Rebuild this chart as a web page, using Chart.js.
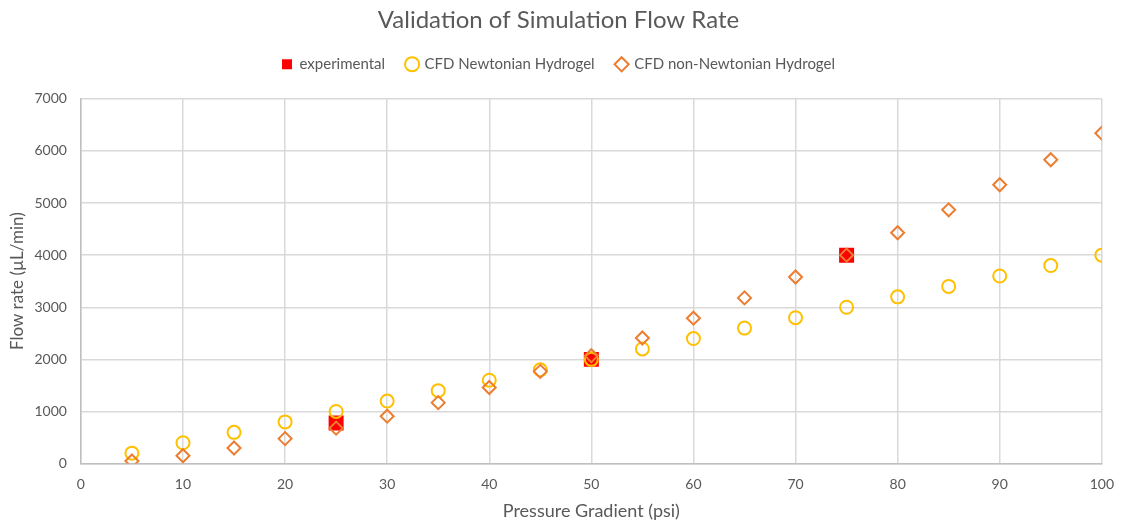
<!DOCTYPE html>
<html>
<head>
<meta charset="utf-8">
<title>Validation of Simulation Flow Rate</title>
<script src="https://cdn.jsdelivr.net/npm/chart.js@4/dist/chart.umd.min.js"></script>
<style>
  html, body { margin: 0; padding: 0; background: #fff; }
  #wrap { width: 1126px; height: 523px; position: relative; }
</style>
</head>
<body>
<div id="wrap"><canvas id="flowChart"></canvas></div>
<script>
// pressure gradient (psi)
var pressure = [5, 10, 15, 20, 25, 30, 35, 40, 45, 50, 55, 60, 65, 70, 75, 80, 85, 90, 95, 100];
// flow rate (µL/min)
var newtonian = [200, 400, 600, 800, 1000, 1200, 1400, 1600, 1800, 2000, 2200, 2400, 2600, 2800, 3000, 3200, 3400, 3600, 3800, 4000];
var nonNewtonian = [50, 150, 300, 480, 680, 910, 1170, 1460, 1770, 2070, 2410, 2790, 3180, 3580, 4000, 4430, 4870, 5350, 5830, 6340];
var expPressure = [25, 50, 75];
var experimental = [780, 2000, 4000];

function toPoints(xs, ys) {
    return xs.map(function (x, i) { return { x: x, y: ys[i] }; });
}

var textColor = "#595959";
var fontName = "Lato, 'Open Sans', sans-serif";

// extra room under the legend before the plot area
var legendGap = {
    id: 'legendGap',
    beforeInit: function (chart) {
        var fit = chart.legend.fit;
        chart.legend.fit = function () {
            fit.call(this);
            this.height += 17;
        };
    }
};

var ctx = document.getElementById("flowChart");
var flowChart = new Chart(ctx, {
    type: 'scatter',
    data: {
        datasets: [{
            label: 'experimental',
            data: toPoints(expPressure, experimental),
            pointStyle: 'rect',
            pointRadius: 10.6,
            pointHoverRadius: 10.6,
            backgroundColor: "#FF0000",
            borderColor: "#FF0000",
            borderWidth: 0,
            order: 2
        }, {
            label: 'CFD Newtonian Hydrogel',
            data: toPoints(pressure, newtonian),
            pointStyle: 'circle',
            pointRadius: 6.5,
            pointHoverRadius: 6.5,
            backgroundColor: "rgba(0,0,0,0)",
            borderColor: "#FFC000",
            borderWidth: 2,
            order: 1
        }, {
            label: 'CFD non-Newtonian Hydrogel',
            data: toPoints(pressure, nonNewtonian),
            pointStyle: 'rectRot',
            pointRadius: 6.5,
            pointHoverRadius: 6.5,
            backgroundColor: "rgba(0,0,0,0)",
            borderColor: "#ED7D31",
            borderWidth: 2,
            order: 0
        }]
    },
    plugins: [legendGap],
    options: {
        animation: false,
        responsive: true,
        maintainAspectRatio: false,
        layout: {
            padding: { left: 3, right: 12, top: 0, bottom: 0 }
        },
        plugins: {
            title: {
                display: true,
                text: 'Validation of Simulation Flow Rate',
                color: textColor,
                font: { family: fontName, size: 24, weight: 'normal' },
                padding: { top: 6, bottom: 0 }
            },
            legend: {
                position: 'top',
                labels: {
                    color: textColor,
                    font: { family: fontName, size: 15 },
                    usePointStyle: true,
                    boxWidth: 10,
                    boxHeight: 10,
                    padding: 22,
                    // keep the dataset order in the legend
                    sort: function (a, b) { return a.datasetIndex - b.datasetIndex; }
                }
            },
            tooltip: { enabled: false }
        },
        scales: {
            x: {
                type: 'linear',
                min: 0,
                max: 100,
                ticks: {
                    stepSize: 10,
                    padding: 12,
                    color: textColor,
                    font: { family: fontName, size: 14 },
                    callback: function (value) { return String(value); }
                },
                grid: {
                    color: "#d9d9d9",
                    lineWidth: 1.5,
                    drawTicks: false
                },
                border: { color: "#bfbfbf", width: 1.5 },
                title: {
                    display: true,
                    text: 'Pressure Gradient (psi)',
                    color: textColor,
                    font: { family: fontName, size: 18 },
                    padding: { top: -4, bottom: 1 }
                }
            },
            y: {
                min: 0,
                max: 7000,
                ticks: {
                    stepSize: 1000,
                    color: textColor,
                    padding: 14,
                    font: { family: fontName, size: 14 },
                    callback: function (value) { return String(value); }
                },
                grid: {
                    color: "#d9d9d9",
                    lineWidth: 1.5,
                    drawTicks: false
                },
                border: { color: "#bfbfbf", width: 1.5 },
                title: {
                    display: true,
                    text: 'Flow rate (µL/min)',
                    color: textColor,
                    font: { family: fontName, size: 17 },
                    padding: { top: 4, bottom: -7 }
                }
            }
        }
    }
});
</script>
</body>
</html>
